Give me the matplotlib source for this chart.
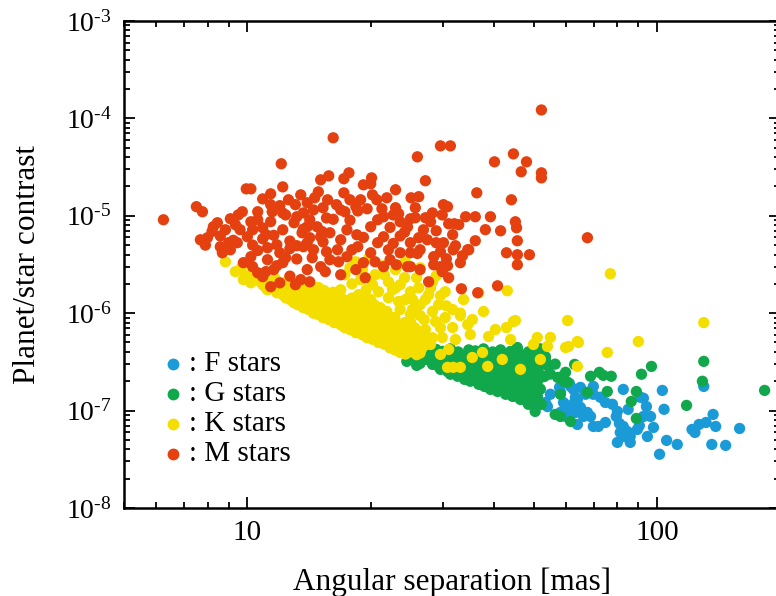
import matplotlib
matplotlib.use('Agg')
import matplotlib.pyplot as plt
import numpy as np
from matplotlib.ticker import LogLocator, NullFormatter, FixedLocator, FixedFormatter

plt.rcParams['font.family'] = ['Liberation Serif', 'DejaVu Serif']
plt.rcParams['mathtext.fontset'] = 'custom'
plt.rcParams['mathtext.rm'] = 'Liberation Serif'
plt.rcParams['mathtext.it'] = 'Liberation Serif:italic'

# (angular separation [mas], planet/star contrast)
f_stars = [
    (38.6, 1.77e-7), (44.6, 1.40e-7), (48.2, 1.24e-7), (51.0, 1.40e-7), (54.0, 1.10e-7),
    (58.1, 9.57e-8), (61.5, 1.10e-7), (62.5, 1.65e-7), (63.9, 1.30e-7), (59.8, 8.70e-8),
    (46.4, 1.34e-7), (49.6, 1.21e-7), (53.4, 1.21e-7), (54.9, 1.47e-7), (57.8, 1.73e-7),
    (61.1, 1.90e-7), (61.5, 1.77e-7), (65.0, 1.73e-7), (69.9, 1.77e-7), (66.9, 1.47e-7),
    (63.2, 1.37e-7), (59.1, 1.21e-7), (62.2, 1.16e-7), (65.0, 1.08e-7), (69.9, 1.47e-7),
    (72.7, 1.37e-7), (74.8, 1.21e-7), (67.6, 9.57e-8), (63.2, 9.57e-8), (60.5, 9.80e-8),
    (63.9, 7.20e-8), (66.1, 8.70e-8), (68.8, 8.70e-8), (69.9, 6.87e-8), (71.9, 6.87e-8),
    (74.8, 7.55e-8), (58.1, 1.54e-7), (130, 1.77e-7), (103, 1.61e-7), (82.7, 1.65e-7),
    (91.0, 1.37e-7), (92.6, 1.34e-7), (94.2, 1.10e-7), (104, 1.03e-7), (85.0, 1.03e-7),
    (80.0, 9.80e-8), (79.5, 8.70e-8), (80.9, 7.37e-8), (82.7, 6.87e-8), (84.6, 6.10e-8),
    (81.3, 5.96e-8), (86.0, 5.42e-8), (83.2, 5.42e-8), (89.5, 6.40e-8), (94.7, 5.42e-8),
    (98.0, 6.71e-8), (96.4, 8.70e-8), (92.6, 8.70e-8), (80.0, 4.71e-8), (86.0, 4.71e-8),
    (105.5, 4.94e-8), (112, 4.49e-8), (101.4, 3.56e-8), (121.7, 6.40e-8), (123.7, 5.96e-8),
    (126.6, 7.20e-8), (131.7, 7.55e-8), (137, 9.13e-8), (139, 6.87e-8), (136, 4.49e-8),
    (147, 4.39e-8), (159, 6.55e-8), (77.8, 1.16e-7), (90.5, 7.0e-8),
]

g_stars = [
    (24.5, 3.20e-7), (25.3, 3.51e-7), (25.9, 2.91e-7), (26.4, 3.05e-7),
    (28.9, 4.24e-7), (31.3, 4.3e-7), (34.7, 4.2e-7), (37.7, 4.3e-7), (41.5, 4.2e-7), (45.6, 4.25e-7), (51.9, 4.3e-7),
    (28.0, 3.77e-7), (30.4, 3.8e-7), (33.1, 3.7e-7), (36.0, 3.8e-7), (39.2, 3.75e-7), (42.7, 3.8e-7), (46.4, 3.7e-7), (50.4, 3.8e-7),
    (27.2, 3.35e-7), (29.3, 3.3e-7), (31.7, 3.4e-7), (34.3, 3.3e-7), (37.1, 3.35e-7), (40.1, 3.4e-7), (43.4, 3.3e-7), (46.9, 3.35e-7), (53.4, 3.3e-7),
    (28.3, 2.98e-7), (30.6, 3.0e-7), (33.1, 2.95e-7), (35.4, 3.0e-7), (38.3, 2.98e-7), (41.0, 2.95e-7), (44.4, 3.0e-7), (48.0, 2.98e-7), (51.9, 2.95e-7), (56.4, 3.0e-7),
    (29.6, 2.65e-7), (32.0, 2.62e-7), (34.3, 2.67e-7), (36.7, 2.63e-7), (39.2, 2.66e-7), (41.9, 2.64e-7), (45.4, 2.65e-7), (49.1, 2.62e-7),
    (31.3, 2.36e-7), (33.5, 2.38e-7), (35.8, 2.34e-7), (38.3, 2.37e-7), (41.0, 2.35e-7), (43.9, 2.38e-7), (46.9, 2.36e-7), (50.7, 2.34e-7), (54.9, 2.37e-7),
    (33.9, 2.09e-7), (36.2, 2.1e-7), (38.8, 2.07e-7), (41.5, 2.1e-7), (44.4, 2.08e-7), (47.4, 2.1e-7), (51.3, 2.07e-7),
    (36.7, 1.86e-7), (39.2, 1.85e-7), (41.9, 1.87e-7), (44.9, 1.85e-7), (48.0, 1.86e-7),
    (39.2, 1.65e-7), (41.9, 1.66e-7), (44.9, 1.64e-7), (48.5, 1.65e-7), (51.9, 1.66e-7),
    (42.7, 1.47e-7), (45.9, 1.48e-7), (49.1, 1.46e-7),
    (46.4, 1.30e-7), (49.6, 1.31e-7), (48.5, 1.16e-7), (51.9, 1.17e-7),
    (30.0, 4.05e-7), (32.7, 4.0e-7), (36.0, 4.1e-7), (39.7, 4.0e-7), (43.9, 4.05e-7), (48.5, 4.0e-7),
    (29.1, 3.6e-7), (31.7, 3.55e-7), (34.7, 3.6e-7), (37.5, 3.58e-7), (40.8, 3.6e-7), (44.4, 3.55e-7), (48.5, 3.6e-7), (53.4, 3.57e-7),
    (30.4, 3.2e-7), (32.9, 3.17e-7), (35.6, 3.2e-7), (38.6, 3.18e-7), (41.7, 3.2e-7), (45.1, 3.16e-7), (49.3, 3.2e-7),
    (29.3, 2.84e-7), (31.8, 2.82e-7), (34.3, 2.85e-7), (37.1, 2.83e-7), (39.9, 2.84e-7), (42.9, 2.82e-7), (46.4, 2.85e-7), (50.2, 2.83e-7), (54.3, 2.84e-7),
    (30.8, 2.52e-7), (33.1, 2.5e-7), (35.4, 2.53e-7), (37.9, 2.51e-7), (40.6, 2.52e-7), (43.6, 2.5e-7), (47.2, 2.53e-7), (51.3, 2.51e-7),
    (32.6, 2.25e-7), (34.9, 2.24e-7), (37.3, 2.26e-7), (39.9, 2.25e-7), (42.7, 2.24e-7), (45.6, 2.26e-7), (49.1, 2.25e-7), (53.1, 2.24e-7),
    (35.0, 2.0e-7), (37.5, 1.98e-7), (40.1, 2.01e-7), (42.9, 1.99e-7), (45.9, 2.0e-7), (49.3, 1.98e-7),
    (37.9, 1.77e-7), (40.6, 1.78e-7), (43.4, 1.76e-7), (46.4, 1.77e-7), (49.9, 1.78e-7),
    (40.8, 1.57e-7), (43.6, 1.58e-7), (46.6, 1.56e-7), (50.2, 1.57e-7),
    (44.4, 1.40e-7), (47.4, 1.41e-7), (51.0, 1.39e-7),
    (50.4, 9.8e-8), (52.2, 1.16e-7), (56.4, 9.13e-8), (58.1, 8.70e-8), (61.5, 7.73e-8),
    (45.6, 4.44e-7), (52.2, 3.60e-7), (62.9, 2.98e-7), (58.8, 2.25e-7), (59.1, 2.00e-7),
    (59.8, 2.47e-7), (68.8, 2.25e-7), (72.3, 2.47e-7), (73.9, 2.30e-7), (77.3, 2.25e-7),
    (75.6, 1.57e-7), (67.6, 1.54e-7), (91.6, 2.36e-7), (96.9, 2.84e-7), (89.0, 1.57e-7),
    (86.5, 1.24e-7), (89.0, 8.30e-8), (118, 1.13e-7), (129, 2.00e-7), (130, 3.20e-7),
    (183, 1.61e-7), (57.2, 2.19e-7), (60.5, 1.95e-7), (58.1, 1.47e-7),
]

k_stars = [
    (8.84, 3.37e-6), (9.35, 2.67e-6), (9.67, 2.93e-6), (9.89, 2.42e-6), (10.2, 2.48e-6), (10.6, 2.55e-6),
    (9.78, 2.21e-6), (10.5, 2.3e-6), (11.1, 2.15e-6), (11.7, 2.25e-6), (12.6, 2.2e-6),
    (10.9, 1.96e-6), (11.5, 1.92e-6), (12.2, 2.0e-6), (13.2, 1.94e-6), (13.9, 1.98e-6),
    (11.2, 1.74e-6), (11.9, 1.70e-6), (12.7, 1.77e-6), (13.5, 1.72e-6), (14.4, 1.76e-6), (15.4, 1.71e-6),
    (12.2, 1.55e-6), (13.0, 1.52e-6), (13.9, 1.57e-6), (14.7, 1.53e-6), (15.8, 1.56e-6), (16.7, 1.54e-6),
    (12.7, 1.38e-6), (13.5, 1.36e-6), (14.4, 1.40e-6), (15.2, 1.37e-6), (16.3, 1.39e-6), (17.4, 1.35e-6), (18.6, 1.40e-6),
    (13.3, 1.22e-6), (14.1, 1.24e-6), (14.9, 1.20e-6), (15.9, 1.23e-6), (17.0, 1.21e-6), (18.0, 1.24e-6), (19.3, 1.20e-6),
    (14.1, 1.09e-6), (14.9, 1.11e-6), (15.8, 1.08e-6), (16.7, 1.10e-6), (17.6, 1.07e-6), (18.9, 1.10e-6), (20.2, 1.08e-6),
    (14.9, 9.7e-7), (15.9, 9.5e-7), (17.1, 9.8e-7), (18.2, 9.6e-7), (19.5, 9.7e-7), (20.9, 9.5e-7),
    (15.8, 8.6e-7), (16.7, 8.5e-7), (17.8, 8.7e-7), (19.1, 8.6e-7), (20.4, 8.5e-7), (21.9, 8.7e-7),
    (16.9, 7.6e-7), (18.0, 7.7e-7), (19.3, 7.5e-7), (20.7, 7.6e-7), (22.1, 7.7e-7), (23.4, 7.5e-7),
    (17.8, 6.8e-7), (19.1, 6.7e-7), (20.4, 6.9e-7), (21.9, 6.8e-7), (23.4, 6.7e-7), (24.7, 6.8e-7),
    (19.1, 6.0e-7), (20.2, 6.1e-7), (21.6, 5.9e-7), (23.1, 6.0e-7), (24.7, 6.1e-7),
    (20.2, 5.4e-7), (21.6, 5.3e-7), (22.9, 5.4e-7), (24.5, 5.3e-7), (25.9, 5.4e-7),
    (21.6, 4.8e-7), (23.1, 4.7e-7), (24.5, 4.8e-7), (26.2, 4.7e-7),
    (22.9, 4.2e-7), (24.2, 4.3e-7), (25.7, 4.2e-7), (24.3, 3.8e-7), (25.9, 3.75e-7),
    (10.2, 2.05e-6), (10.8, 2.07e-6), (11.4, 2.03e-6), (12.0, 2.06e-6), (12.9, 2.04e-6), (13.6, 2.05e-6),
    (11.1, 1.82e-6), (11.7, 1.84e-6), (12.4, 1.81e-6), (13.1, 1.83e-6), (13.9, 1.82e-6), (14.9, 1.84e-6),
    (11.8, 1.62e-6), (12.5, 1.64e-6), (13.4, 1.61e-6), (14.2, 1.63e-6), (15.2, 1.62e-6), (16.2, 1.64e-6),
    (12.4, 1.44e-6), (13.1, 1.46e-6), (13.9, 1.43e-6), (14.8, 1.45e-6), (15.8, 1.44e-6), (16.9, 1.46e-6), (18.0, 1.43e-6),
    (13.0, 1.28e-6), (13.7, 1.29e-6), (14.5, 1.27e-6), (15.4, 1.29e-6), (16.4, 1.28e-6), (17.5, 1.27e-6), (18.7, 1.29e-6),
    (13.7, 1.14e-6), (14.5, 1.15e-6), (15.3, 1.13e-6), (16.2, 1.15e-6), (17.2, 1.14e-6), (18.2, 1.13e-6), (19.5, 1.15e-6),
    (14.5, 1.0e-6), (15.3, 1.01e-6), (16.4, 0.99e-6), (17.5, 1.0e-6), (18.9, 1.01e-6), (20.2, 0.99e-6), (21.6, 1.0e-6),
    (15.3, 9.0e-7), (16.3, 9.1e-7), (17.4, 8.9e-7), (18.7, 9.0e-7), (20.0, 9.1e-7), (21.4, 8.9e-7), (22.9, 9.0e-7),
    (16.3, 8.0e-7), (17.3, 8.1e-7), (18.6, 7.9e-7), (19.9, 8.0e-7), (21.3, 8.1e-7), (22.6, 7.9e-7), (24.2, 8.0e-7),
    (17.3, 7.1e-7), (18.6, 7.2e-7), (19.9, 7.0e-7), (21.1, 7.1e-7), (22.6, 7.2e-7), (24.0, 7.0e-7), (25.6, 7.1e-7),
    (18.4, 6.3e-7), (19.8, 6.4e-7), (21.1, 6.2e-7), (22.5, 6.3e-7), (23.9, 6.4e-7), (25.6, 6.2e-7),
    (19.6, 5.6e-7), (20.9, 5.7e-7), (22.3, 5.5e-7), (23.8, 5.6e-7), (25.3, 5.7e-7), (27.0, 5.5e-7),
    (20.9, 5.0e-7), (22.3, 5.05e-7), (23.8, 4.95e-7), (25.3, 5.0e-7), (27.0, 5.05e-7),
    (22.3, 4.4e-7), (23.6, 4.45e-7), (25.1, 4.35e-7), (26.7, 4.4e-7),
    (23.6, 3.95e-7), (25.0, 4.0e-7), (26.4, 3.9e-7),
    (18.4, 3.37e-6), (19.1, 2.80e-6), (19.8, 3.71e-6), (20.5, 2.48e-6), (21.4, 3.07e-6),
    (22.1, 2.10e-6), (23.0, 2.80e-6), (23.6, 1.96e-6), (24.3, 3.37e-6), (25.0, 1.66e-6),
    (25.9, 2.31e-6), (26.4, 2.93e-6), (27.2, 1.38e-6), (28.0, 1.82e-6), (28.9, 2.42e-6),
    (29.6, 1.51e-6), (30.6, 1.19e-6), (28.3, 1.04e-6), (26.4, 9.45e-7), (25.0, 8.20e-7),
    (23.6, 1.09e-6), (22.1, 1.44e-6), (20.9, 1.66e-6), (19.5, 1.74e-6), (18.0, 2.00e-6),
    (17.3, 2.48e-6), (16.9, 1.74e-6), (20.0, 1.38e-6), (18.7, 1.55e-6), (21.1, 1.14e-6),
    (22.6, 9.0e-7), (24.3, 1.38e-6), (23.0, 1.82e-6), (25.3, 1.09e-6), (21.7, 8.2e-7),
    (17.8, 2.93e-6), (18.9, 2.21e-6), (20.2, 1.96e-6), (21.6, 2.48e-6), (22.6, 1.74e-6),
    (24.2, 2.31e-6), (25.3, 1.38e-6), (26.2, 1.82e-6), (27.7, 1.55e-6), (28.3, 2.10e-6),
    (29.3, 1.22e-6), (30.4, 1.66e-6), (31.7, 1.09e-6), (26.4, 1.22e-6), (23.4, 1.32e-6),
    (21.9, 1.04e-6), (20.4, 1.22e-6), (19.3, 1.44e-6), (25.0, 9.7e-7), (27.0, 8.6e-7),
    (29.6, 7.1e-7), (26.2, 6.5e-7), (28.3, 5.6e-7), (25.7, 4.8e-7), (24.3, 3.14e-6),
    (27.2, 6.79e-7), (28.8, 8.20e-7), (30.4, 9.01e-7), (31.7, 7.12e-7), (33.1, 9.45e-7),
    (34.5, 7.64e-7), (32.2, 5.36e-7), (29.9, 5.63e-7), (28.0, 4.77e-7), (33.7, 1.38e-6),
    (35.4, 8.60e-7), (36.7, 1.62e-6), (37.7, 1.04e-6), (38.8, 5.76e-7), (40.3, 6.79e-7),
    (41.9, 3.35e-7), (42.9, 7.12e-7), (43.1, 1.70e-6), (43.9, 5.36e-7), (45.1, 8.40e-7),
    (46.4, 2.65e-7), (35.4, 3.51e-7), (37.5, 3.95e-7), (33.1, 2.78e-7), (31.8, 2.78e-7),
    (30.8, 2.78e-7), (38.6, 2.84e-7), (29.6, 3.77e-7), (31.0, 4.24e-7), (35.0, 6.04e-7),
    (33.1, 1.00e-6), (44.6, 8.20e-7),
    (49.9, 4.77e-7), (51.0, 5.63e-7), (54.0, 4.55e-7), (54.9, 5.63e-7), (51.9, 3.35e-7),
    (59.8, 4.44e-7), (60.8, 4.55e-7), (63.9, 5.12e-7), (64.3, 5.0e-7), (60.5, 8.40e-7),
    (63.9, 2.84e-7), (75.6, 3.95e-7), (90.0, 5.12e-7), (130, 8.0e-7), (76.9, 2.54e-6),
]

m_stars = [
    (6.24, 9.1e-6), (7.51, 1.24e-5), (7.77, 1.10e-5), (9.94, 1.89e-5), (10.2, 1.89e-5),
    (12.1, 3.42e-5), (16.2, 6.32e-5), (29.6, 5.22e-5), (31.3, 5.22e-5), (26.0, 4.03e-5),
    (40.1, 3.58e-5), (44.6, 4.32e-5), (48.0, 3.58e-5), (46.6, 2.83e-5), (52.2, 2.76e-5),
    (52.2, 2.45e-5), (52.2, 1.22e-4), (67.6, 5.95e-6), (44.1, 1.46e-5), (45.1, 8.68e-6),
    (45.4, 7.53e-6), (45.6, 5.54e-6), (48.8, 3.98e-6), (45.6, 3.98e-6), (41.5, 7.01e-6),
    (39.2, 9.77e-6), (36.0, 9.77e-6), (34.1, 9.77e-6), (32.0, 8.28e-6), (31.0, 8.28e-6),
    (34.7, 4.48e-6), (36.0, 5.54e-6), (33.3, 1.78e-6), (40.8, 1.91e-6), (36.5, 1.62e-6),
    (42.9, 4.17e-6), (36.3, 1.72e-5), (30.1, 1.30e-5), (29.9, 1.02e-5), (27.2, 2.29e-5),
    (23.0, 1.85e-5), (25.1, 1.53e-5), (26.2, 1.57e-5), (21.3, 1.18e-5), (22.7, 1.02e-5),
    (25.0, 9.32e-6), (28.9, 7.01e-6), (28.9, 5.29e-6), (26.9, 7.18e-6), (30.6, 3.62e-6),
    (30.8, 3.07e-6), (17.7, 2.76e-5), (15.8, 2.57e-5), (15.1, 2.34e-5), (17.2, 2.40e-5),
    (20.1, 2.45e-5), (20.0, 2.13e-5), (19.2, 2.08e-5), (28.3, 1.07e-5), (25.7, 1.21e-5),
    (25.7, 9.54e-6), (23.0, 1.21e-5), (18.4, 1.24e-5), (30.8, 1.24e-5), (32.2, 4.93e-6),
    (34.5, 4.48e-6), (25.0, 4.17e-6), (29.6, 4.27e-6), (33.5, 3.89e-6), (45.6, 3.14e-6),
    (28.5, 3.14e-6), (29.9, 2.67e-6), (31.0, 2.31e-6), (27.7, 2.10e-6), (25.0, 3.00e-6),
    (12.2, 1.98e-5), (11.4, 1.68e-5), (10.9, 1.49e-5), (11.4, 1.30e-5), (11.5, 1.10e-5),
    (12.0, 1.27e-5), (12.2, 1.07e-5), (9.72, 1.10e-5),
    (8.45, 8.48e-6), (9.09, 9.32e-6), (8.84, 7.18e-6), (8.26, 7.71e-6), (7.68, 5.67e-6),
    (7.99, 5.95e-6), (8.59, 6.2e-6), (9.24, 5.6e-6), (8.59, 4.81e-6), (8.69, 4.17e-6),
    (9.09, 4.48e-6), (9.45, 5.29e-6), (10.0, 6.09e-6), (10.2, 8.68e-6), (10.6, 9.10e-6),
    (10.9, 7.53e-6), (10.3, 7.18e-6), (10.9, 5.8e-6), (11.6, 6.3e-6), (12.2, 7.18e-6),
    (13.0, 8.48e-6), (13.2, 9.77e-6), (13.7, 1.07e-5), (14.0, 7.71e-6), (13.6, 6.69e-6),
    (12.7, 5.5e-6), (11.8, 5.04e-6), (11.2, 4.70e-6), (10.6, 4.4e-6), (10.2, 3.80e-6),
    (9.78, 3.30e-6), (10.3, 3.00e-6), (11.2, 3.54e-6), (12.0, 4.17e-6), (12.7, 4.6e-6),
    (13.7, 4.81e-6), (13.2, 3.6e-6), (12.2, 3.30e-6), (11.6, 2.80e-6), (10.9, 2.37e-6),
    (10.6, 2.60e-6), (14.0, 2.80e-6), (13.5, 2.21e-6), (12.7, 2.4e-6), (12.0, 2.05e-6),
    (11.4, 1.87e-6),
    (14.0, 1.36e-5), (14.5, 1.15e-5), (14.2, 9.10e-6), (13.7, 7.3e-6), (14.8, 7.71e-6),
    (15.1, 6.09e-6), (14.0, 5.29e-6), (14.5, 4.48e-6), (15.3, 5.4e-6), (15.9, 6.69e-6),
    (16.2, 9.2e-6), (16.9, 1.15e-5), (15.7, 1.46e-5), (17.2, 1.72e-5), (17.8, 1.46e-5),
    (18.6, 1.12e-5), (17.8, 9.0e-6), (17.5, 7.18e-6), (16.9, 5.67e-6), (16.6, 4.48e-6),
    (15.9, 3.54e-6), (15.1, 3.00e-6), (17.5, 3.80e-6), (18.6, 4.81e-6), (19.2, 6.0e-6),
    (20.0, 7.71e-6), (20.8, 9.10e-6), (19.6, 1.18e-5), (21.5, 9.77e-6), (22.3, 7.6e-6),
    (21.5, 6.09e-6), (20.8, 5.29e-6), (20.0, 4.17e-6), (19.2, 3.30e-6), (22.7, 5.2e-6),
    (23.6, 4.17e-6), (22.3, 3.54e-6), (21.5, 3.00e-6), (23.6, 6.2e-6), (24.6, 7.71e-6),
    (25.0, 5.29e-6), (26.0, 4.1e-6), (24.6, 3.00e-6), (27.5, 5.67e-6), (28.5, 3.80e-6),
    (29.6, 3.00e-6), (30.1, 5.29e-6), (31.8, 4.48e-6), (33.1, 3.30e-6),
    (9.35, 8.1e-6), (10.6, 1.10e-5), (12.6, 1.46e-5), (14.9, 1.76e-5), (16.5, 1.30e-5),
    (20.7, 1.46e-5), (23.6, 8.68e-6), (27.2, 9.54e-6),
    (8.2, 6.9e-6), (7.9, 5.0e-6), (9.0, 5.3e-6), (9.6, 7.2e-6), (9.5, 1.02e-5),
    (10.3, 5.0e-6), (11.1, 6.4e-6), (11.4, 8.7e-6), (12.4, 1.02e-5), (13.1, 1.30e-5),
    (13.5, 1.64e-5), (14.6, 1.53e-5), (15.3, 1.21e-5), (15.6, 9.5e-6), (15.2, 6.9e-6),
    (14.2, 5.95e-6), (13.2, 4.93e-6), (12.4, 3.71e-6), (11.8, 3.07e-6), (11.1, 2.67e-6),
    (14.4, 3.71e-6), (15.6, 4.27e-6), (16.7, 3.37e-6), (18.0, 4.48e-6), (18.5, 6.38e-6),
    (17.3, 1.1e-5), (18.9, 1.46e-5), (20.2, 1.64e-5), (21.9, 1.53e-5), (23.4, 1.05e-5),
    (24.2, 6.8e-6), (26.2, 5.95e-6), (26.4, 4.48e-6), (28.0, 8.7e-6), (22.1, 4.48e-6),
    (20.5, 3.37e-6), (23.1, 3.14e-6), (18.4, 2.8e-6), (16.9, 2.48e-6), (15.5, 2.67e-6),
    (14.2, 2.10e-6), (13.1, 1.96e-6), (19.4, 2.31e-6), (26.4, 2.8e-6), (31.7, 6.4e-6),
    (32.8, 8.1e-6), (38.1, 7.2e-6),
]

series = [
    (f_stars, '#1a9bd7', ': F stars'),
    (g_stars, '#10a84b', ': G stars'),
    (k_stars, '#f4de00', ': K stars'),
    (m_stars, '#e5400f', ': M stars'),
]

fig = plt.figure(figsize=(7.76, 5.96), dpi=100, facecolor='white')
ax = fig.add_axes([0.1598, 0.1477, 0.8459, 0.8171])

for i, (pts, color, label) in enumerate(series):
    arr = np.array(pts)
    ax.scatter(arr[:, 0], arr[:, 1], s=66, color=color, edgecolors='none', zorder=2 + i)

ax.set_xscale('log')
ax.set_yscale('log')
ax.set_xlim(5, 200)
ax.set_ylim(1e-8, 1e-3)

# тики: внутрь, со всех сторон
ax.xaxis.set_major_locator(FixedLocator([10, 100]))
ax.xaxis.set_major_formatter(FixedFormatter(['10', '100']))
ax.xaxis.set_minor_locator(LogLocator(base=10, subs=np.arange(2, 10), numticks=20))
ax.xaxis.set_minor_formatter(NullFormatter())

yt = [1e-8, 1e-7, 1e-6, 1e-5, 1e-4, 1e-3]
ax.yaxis.set_major_locator(FixedLocator(yt))
ax.yaxis.set_major_formatter(FixedFormatter([r'$\mathregular{10^{\text{-}%d}}$' % e for e in (8, 7, 6, 5, 4, 3)]))
ax.yaxis.set_minor_locator(LogLocator(base=10, subs=np.arange(2, 10), numticks=20))
ax.yaxis.set_minor_formatter(NullFormatter())

ax.tick_params(which='both', direction='in', top=True, right=True, width=1.3, colors='black')
ax.tick_params(which='major', length=8)
ax.tick_params(which='minor', length=4)
ax.tick_params(axis='x', which='major', labelsize=21, pad=9)
ax.tick_params(axis='y', which='major', labelsize=20, pad=9)
for sp in ax.spines.values():
    sp.set_linewidth(1.8)

ax.set_xlabel('Angular separation [mas]', fontsize=22.5, labelpad=15)
ax.set_ylabel('Planet/star contrast', fontsize=22.5, labelpad=17)

# Легенда вручную
for i, (pts, color, label) in enumerate(series):
    y = 0.296 - i * 0.0618
    ax.plot(0.075, y, 'o', color=color, markersize=8.5, markeredgewidth=0,
            transform=ax.transAxes, zorder=10)
    ax.text(0.099, y, label, transform=ax.transAxes, fontsize=21,
            ha='left', va='center', zorder=10)

fig.savefig('out.png', dpi=100, facecolor='white')
